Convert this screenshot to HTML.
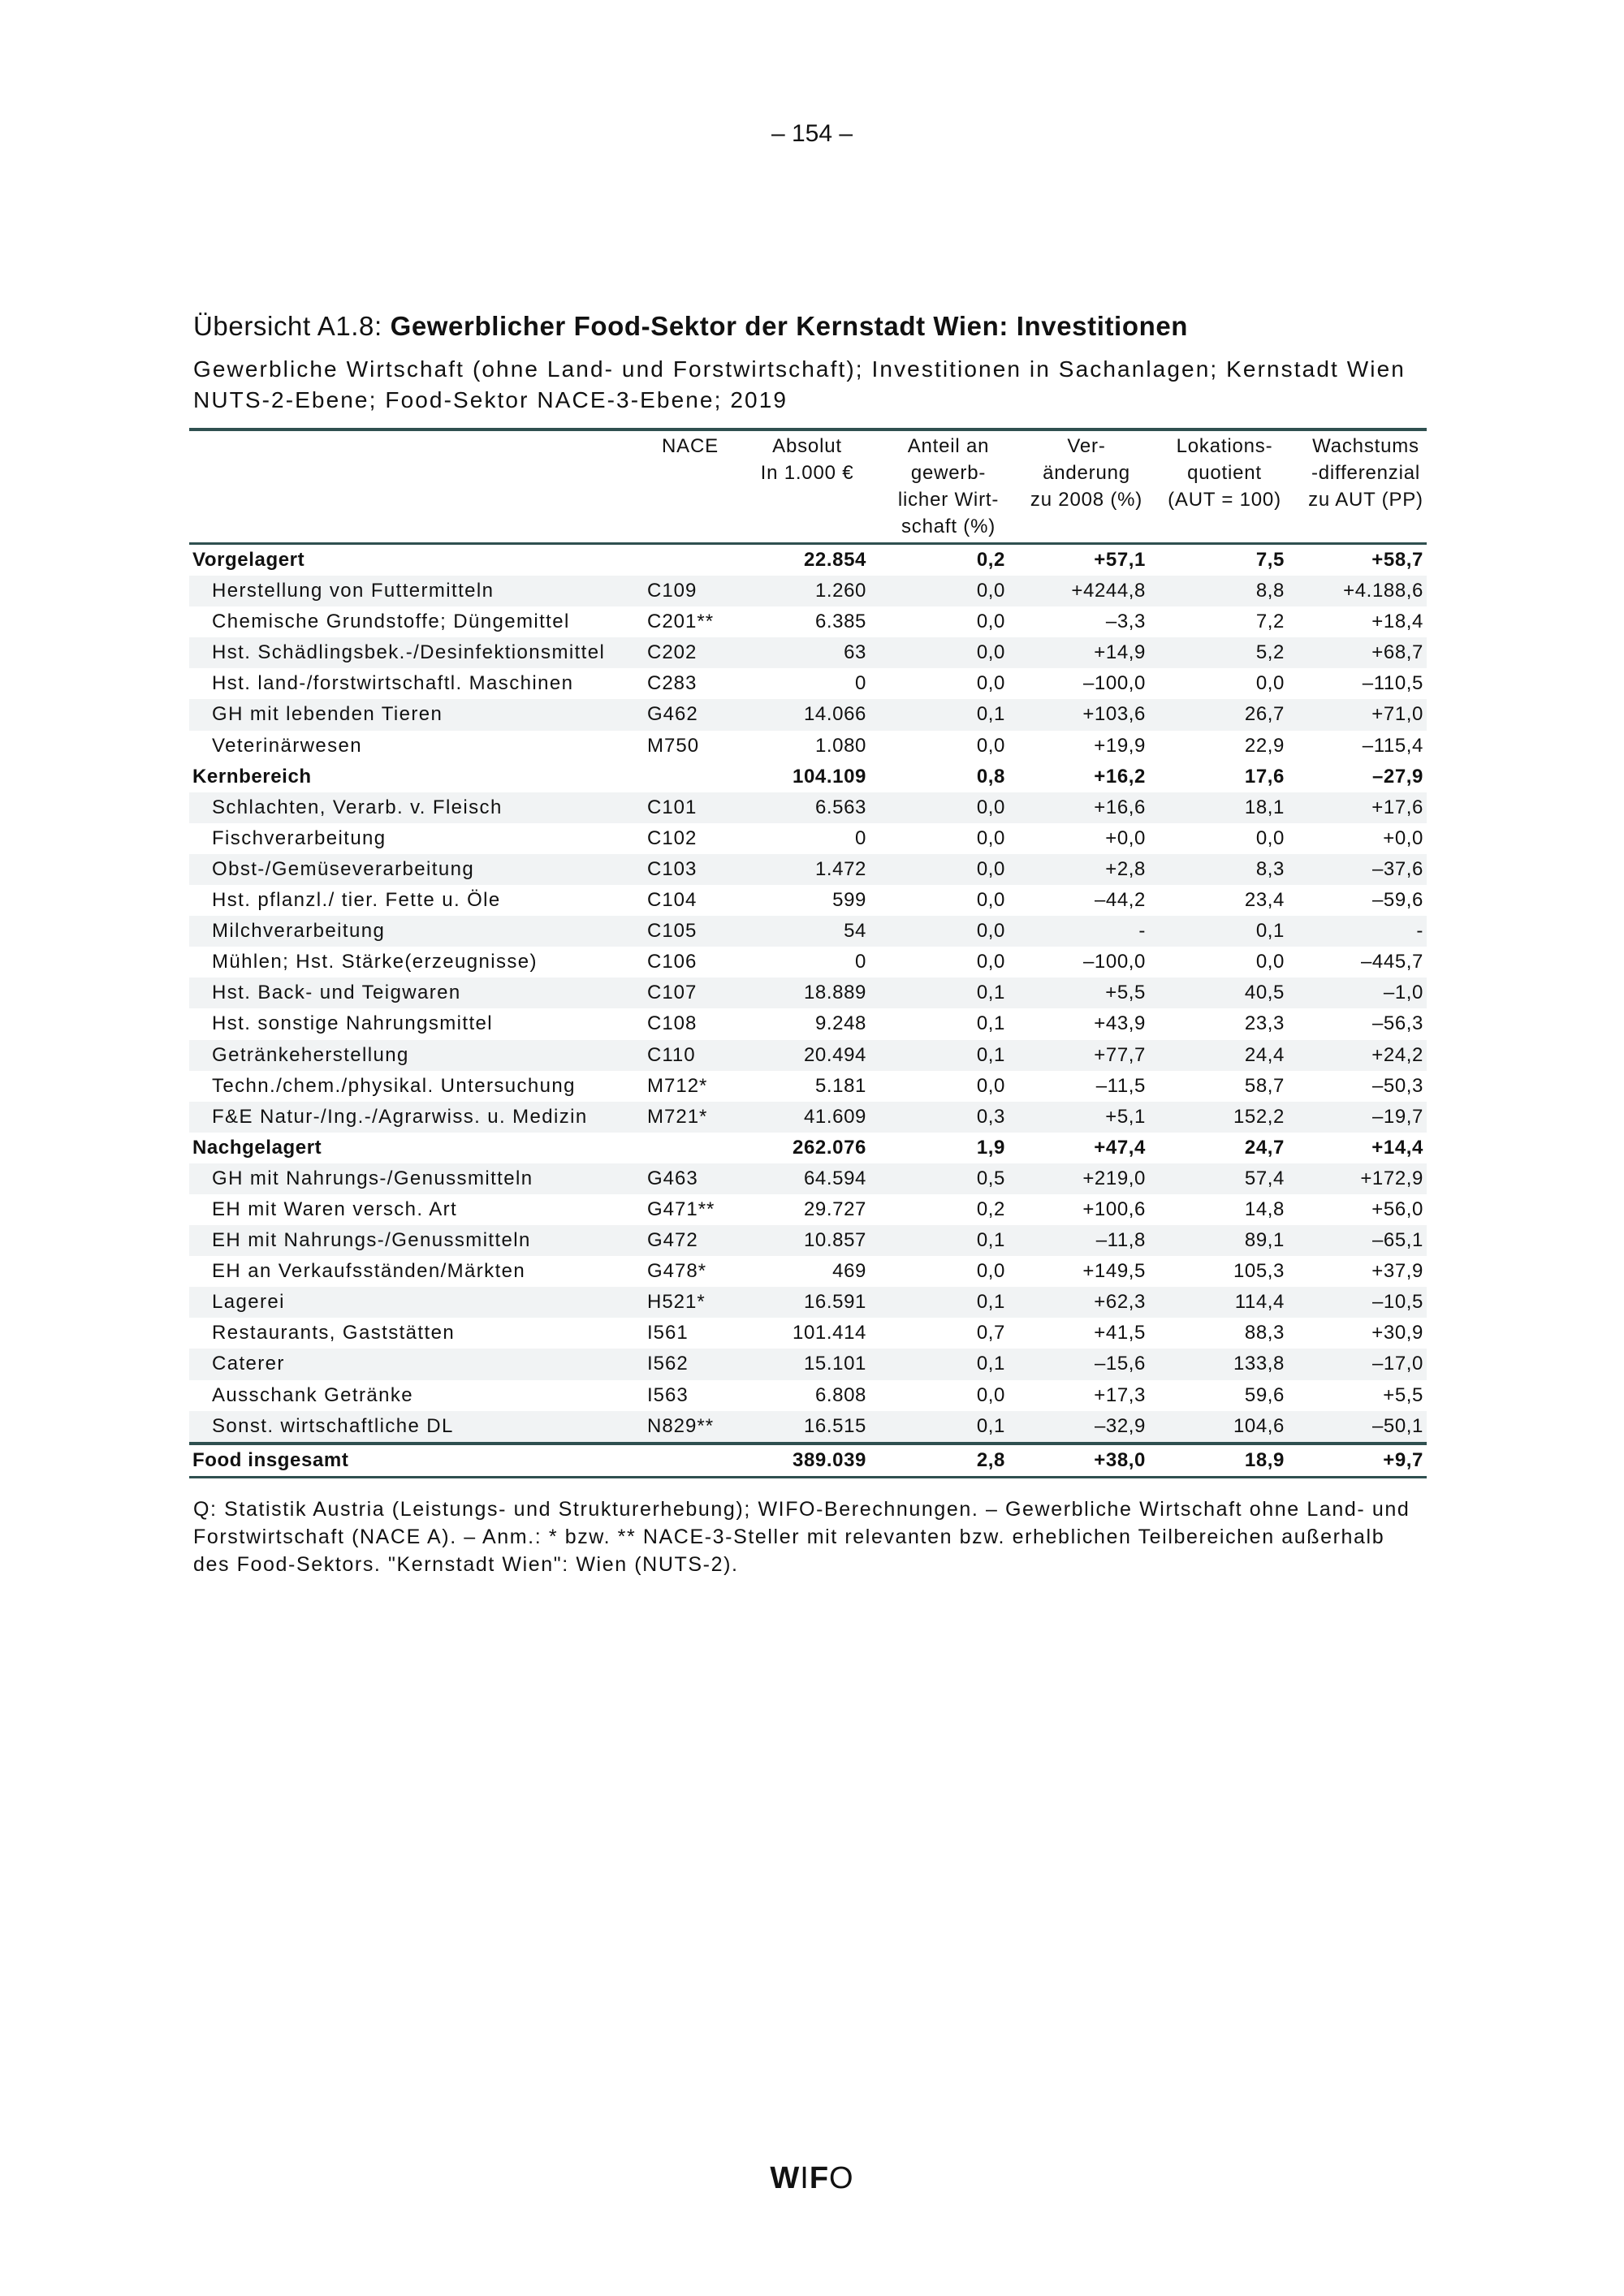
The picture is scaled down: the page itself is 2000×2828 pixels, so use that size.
<!DOCTYPE html>
<html><head><meta charset="utf-8"><style>
body{margin:0;background:#fff;}
#p{position:relative;width:2000px;height:2828px;font-family:"Liberation Sans",sans-serif;color:#111;overflow:hidden}
.a{position:absolute;white-space:nowrap}
.hd{position:absolute;text-align:center;font-size:24px;line-height:33px;top:533px;letter-spacing:0.8px}
.rule{position:absolute;left:233px;width:1524px;background:#2f5050}
.t{position:absolute;left:233px;width:1524px;font-size:24px}
.row{display:flex;height:38.1px;line-height:38.1px;white-space:nowrap}
.row span{display:block;flex:none}
.n{width:536px;padding-left:28px;letter-spacing:1.4px}
.c{width:160px;letter-spacing:1px}
.r{text-align:right;letter-spacing:0.6px}
.w1{width:110px}.w2{width:171px}.w3{width:173px}.w4{width:171px}.w5{width:171px}
.b{font-weight:bold}
.b .n{padding-left:4px;width:560px;letter-spacing:0.6px}
.s{background:#f1f3f4}
</style></head><body><div id="p">
<div class="a" style="left:0;width:2000px;text-align:center;top:148px;font-size:30px">– 154 –</div>
<div class="a" style="left:238px;top:383px;font-size:33px;letter-spacing:0.6px">Übersicht A1.8: <b>Gewerblicher Food-Sektor der Kernstadt Wien: Investitionen</b></div>
<div class="a" style="left:238px;top:436px;font-size:28px;line-height:38px;letter-spacing:2.1px">Gewerbliche Wirtschaft (ohne Land- und Forstwirtschaft); Investitionen in Sachanlagen; Kernstadt Wien<br>NUTS-2-Ebene; Food-Sektor NACE-3-Ebene; 2019</div>
<div class="rule" style="top:527px;height:4px"></div>
<div class="hd" style="left:800px;width:100px">NACE</div>
<div class="hd" style="left:918px;width:152px">Absolut<br>In 1.000 €</div>
<div class="hd" style="left:1088px;width:160px">Anteil an<br>gewerb-<br>licher Wirt-<br>schaft (%)</div>
<div class="hd" style="left:1258px;width:160px">Ver-<br>änderung<br>zu 2008 (%)</div>
<div class="hd" style="left:1428px;width:160px">Lokations-<br>quotient<br>(AUT = 100)</div>
<div class="hd" style="left:1597px;width:170px">Wachstums<br>-differenzial<br>zu AUT (PP)</div>
<div class="rule" style="top:668px;height:3px"></div>
<div class="t" style="top:671px">
<div class="row b"><span class="n">Vorgelagert</span><span class="c"></span><span class="r w1">22.854</span><span class="r w2">0,2</span><span class="r w3">+57,1</span><span class="r w4">7,5</span><span class="r w5">+58,7</span></div>
<div class="row s"><span class="n">Herstellung von Futtermitteln</span><span class="c">C109</span><span class="r w1">1.260</span><span class="r w2">0,0</span><span class="r w3">+4244,8</span><span class="r w4">8,8</span><span class="r w5">+4.188,6</span></div>
<div class="row"><span class="n">Chemische Grundstoffe; Düngemittel</span><span class="c">C201**</span><span class="r w1">6.385</span><span class="r w2">0,0</span><span class="r w3">–3,3</span><span class="r w4">7,2</span><span class="r w5">+18,4</span></div>
<div class="row s"><span class="n">Hst. Schädlingsbek.-/Desinfektionsmittel</span><span class="c">C202</span><span class="r w1">63</span><span class="r w2">0,0</span><span class="r w3">+14,9</span><span class="r w4">5,2</span><span class="r w5">+68,7</span></div>
<div class="row"><span class="n">Hst. land-/forstwirtschaftl. Maschinen</span><span class="c">C283</span><span class="r w1">0</span><span class="r w2">0,0</span><span class="r w3">–100,0</span><span class="r w4">0,0</span><span class="r w5">–110,5</span></div>
<div class="row s"><span class="n">GH mit lebenden Tieren</span><span class="c">G462</span><span class="r w1">14.066</span><span class="r w2">0,1</span><span class="r w3">+103,6</span><span class="r w4">26,7</span><span class="r w5">+71,0</span></div>
<div class="row"><span class="n">Veterinärwesen</span><span class="c">M750</span><span class="r w1">1.080</span><span class="r w2">0,0</span><span class="r w3">+19,9</span><span class="r w4">22,9</span><span class="r w5">–115,4</span></div>
<div class="row b"><span class="n">Kernbereich</span><span class="c"></span><span class="r w1">104.109</span><span class="r w2">0,8</span><span class="r w3">+16,2</span><span class="r w4">17,6</span><span class="r w5">–27,9</span></div>
<div class="row s"><span class="n">Schlachten, Verarb. v. Fleisch</span><span class="c">C101</span><span class="r w1">6.563</span><span class="r w2">0,0</span><span class="r w3">+16,6</span><span class="r w4">18,1</span><span class="r w5">+17,6</span></div>
<div class="row"><span class="n">Fischverarbeitung</span><span class="c">C102</span><span class="r w1">0</span><span class="r w2">0,0</span><span class="r w3">+0,0</span><span class="r w4">0,0</span><span class="r w5">+0,0</span></div>
<div class="row s"><span class="n">Obst-/Gemüseverarbeitung</span><span class="c">C103</span><span class="r w1">1.472</span><span class="r w2">0,0</span><span class="r w3">+2,8</span><span class="r w4">8,3</span><span class="r w5">–37,6</span></div>
<div class="row"><span class="n">Hst. pflanzl./ tier. Fette u. Öle</span><span class="c">C104</span><span class="r w1">599</span><span class="r w2">0,0</span><span class="r w3">–44,2</span><span class="r w4">23,4</span><span class="r w5">–59,6</span></div>
<div class="row s"><span class="n">Milchverarbeitung</span><span class="c">C105</span><span class="r w1">54</span><span class="r w2">0,0</span><span class="r w3">-</span><span class="r w4">0,1</span><span class="r w5">-</span></div>
<div class="row"><span class="n">Mühlen; Hst. Stärke(erzeugnisse)</span><span class="c">C106</span><span class="r w1">0</span><span class="r w2">0,0</span><span class="r w3">–100,0</span><span class="r w4">0,0</span><span class="r w5">–445,7</span></div>
<div class="row s"><span class="n">Hst. Back- und Teigwaren</span><span class="c">C107</span><span class="r w1">18.889</span><span class="r w2">0,1</span><span class="r w3">+5,5</span><span class="r w4">40,5</span><span class="r w5">–1,0</span></div>
<div class="row"><span class="n">Hst. sonstige Nahrungsmittel</span><span class="c">C108</span><span class="r w1">9.248</span><span class="r w2">0,1</span><span class="r w3">+43,9</span><span class="r w4">23,3</span><span class="r w5">–56,3</span></div>
<div class="row s"><span class="n">Getränkeherstellung</span><span class="c">C110</span><span class="r w1">20.494</span><span class="r w2">0,1</span><span class="r w3">+77,7</span><span class="r w4">24,4</span><span class="r w5">+24,2</span></div>
<div class="row"><span class="n">Techn./chem./physikal. Untersuchung</span><span class="c">M712*</span><span class="r w1">5.181</span><span class="r w2">0,0</span><span class="r w3">–11,5</span><span class="r w4">58,7</span><span class="r w5">–50,3</span></div>
<div class="row s"><span class="n">F&amp;E Natur-/Ing.-/Agrarwiss. u. Medizin</span><span class="c">M721*</span><span class="r w1">41.609</span><span class="r w2">0,3</span><span class="r w3">+5,1</span><span class="r w4">152,2</span><span class="r w5">–19,7</span></div>
<div class="row b"><span class="n">Nachgelagert</span><span class="c"></span><span class="r w1">262.076</span><span class="r w2">1,9</span><span class="r w3">+47,4</span><span class="r w4">24,7</span><span class="r w5">+14,4</span></div>
<div class="row s"><span class="n">GH mit Nahrungs-/Genussmitteln</span><span class="c">G463</span><span class="r w1">64.594</span><span class="r w2">0,5</span><span class="r w3">+219,0</span><span class="r w4">57,4</span><span class="r w5">+172,9</span></div>
<div class="row"><span class="n">EH mit Waren versch. Art</span><span class="c">G471**</span><span class="r w1">29.727</span><span class="r w2">0,2</span><span class="r w3">+100,6</span><span class="r w4">14,8</span><span class="r w5">+56,0</span></div>
<div class="row s"><span class="n">EH mit Nahrungs-/Genussmitteln</span><span class="c">G472</span><span class="r w1">10.857</span><span class="r w2">0,1</span><span class="r w3">–11,8</span><span class="r w4">89,1</span><span class="r w5">–65,1</span></div>
<div class="row"><span class="n">EH an Verkaufsständen/Märkten</span><span class="c">G478*</span><span class="r w1">469</span><span class="r w2">0,0</span><span class="r w3">+149,5</span><span class="r w4">105,3</span><span class="r w5">+37,9</span></div>
<div class="row s"><span class="n">Lagerei</span><span class="c">H521*</span><span class="r w1">16.591</span><span class="r w2">0,1</span><span class="r w3">+62,3</span><span class="r w4">114,4</span><span class="r w5">–10,5</span></div>
<div class="row"><span class="n">Restaurants, Gaststätten</span><span class="c">I561</span><span class="r w1">101.414</span><span class="r w2">0,7</span><span class="r w3">+41,5</span><span class="r w4">88,3</span><span class="r w5">+30,9</span></div>
<div class="row s"><span class="n">Caterer</span><span class="c">I562</span><span class="r w1">15.101</span><span class="r w2">0,1</span><span class="r w3">–15,6</span><span class="r w4">133,8</span><span class="r w5">–17,0</span></div>
<div class="row"><span class="n">Ausschank Getränke</span><span class="c">I563</span><span class="r w1">6.808</span><span class="r w2">0,0</span><span class="r w3">+17,3</span><span class="r w4">59,6</span><span class="r w5">+5,5</span></div>
<div class="row s"><span class="n">Sonst. wirtschaftliche DL</span><span class="c">N829**</span><span class="r w1">16.515</span><span class="r w2">0,1</span><span class="r w3">–32,9</span><span class="r w4">104,6</span><span class="r w5">–50,1</span></div>
</div>
<div class="rule" style="top:1776px;height:4px"></div>
<div class="t" style="top:1780px">
<div class="row b"><span class="n">Food insgesamt</span><span class="c"></span><span class="r w1">389.039</span><span class="r w2">2,8</span><span class="r w3">+38,0</span><span class="r w4">18,9</span><span class="r w5">+9,7</span></div>
</div>
<div class="rule" style="top:1818px;height:3px"></div>
<div class="a" style="left:238px;top:1842px;font-size:25px;line-height:34px;letter-spacing:1.6px">Q: Statistik Austria (Leistungs- und Strukturerhebung); WIFO-Berechnungen. – Gewerbliche Wirtschaft ohne Land- und<br>Forstwirtschaft (NACE A). – Anm.: * bzw. ** NACE-3-Steller mit relevanten bzw. erheblichen Teilbereichen außerhalb<br>des Food-Sektors. "Kernstadt Wien": Wien (NUTS-2).</div>
<div class="a" style="left:0;width:2000px;text-align:center;top:2662px;font-size:38px;font-weight:bold;letter-spacing:1px">W<span style="font-weight:normal">I</span>F<span style="font-weight:normal">O</span></div>
</div></body></html>
